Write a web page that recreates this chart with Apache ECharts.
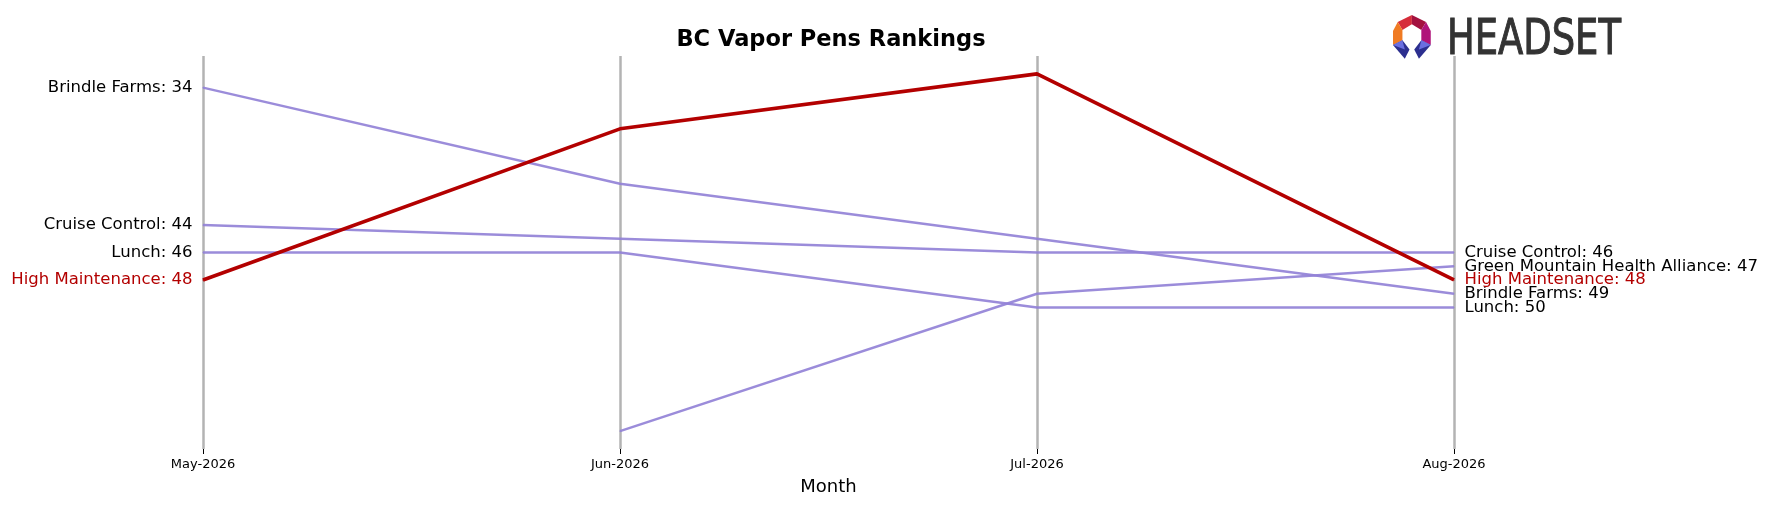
<!DOCTYPE html>
<html>
<head>
<meta charset="utf-8">
<script src="https://cdn.jsdelivr.net/npm/echarts@6/dist/echarts.min.js"></script>
<style>html,body{margin:0;padding:0;background:#fff}#c{width:1769px;height:506px}</style>
</head>
<body>
<div id="c"></div>
<script>
const months = ["May-2026", "Jun-2026", "Jul-2026", "Aug-2026"];
const brindleFarms = [34, 41, 45, 49];
const cruiseControl = [44, 45, 46, 46];
const lunch = [46, 46, 50, 50];
const greenMountain = [null, 59, 49, 47];
const highMaintenance = [48, 37, 33, 48];

const brands = [
  { name: "Brindle Farms", data: brindleFarms, hl: false },
  { name: "Cruise Control", data: cruiseControl, hl: false },
  { name: "Lunch", data: lunch, hl: false },
  { name: "Green Mountain Health Alliance", data: greenMountain, hl: false },
  { name: "High Maintenance", data: highMaintenance, hl: true }
];

const FONT = "DejaVu Sans";
const PURPLE = "rgba(147,130,215,0.92)";
const RED = "#b30000";

function buildSeries(b) {
  const color = b.hl ? RED : PURPLE;
  const txt = b.hl ? RED : "#000";
  const last = b.data.length - 1;
  const data = b.data.map((v, i) => {
    const item = { value: v };
    if (v !== null && (i === 0 || i === last)) {
      item.label = {
        show: true,
        position: i === 0 ? "left" : "right",
        distance: 10,
        formatter: b.name + ": " + v,
        color: txt,
        fontFamily: FONT,
        fontSize: 16.5
      };
    }
    return item;
  });
  return {
    name: b.name,
    type: "line",
    data: data,
    symbol: "circle",
    symbolSize: 1,
    showSymbol: true,
    showAllSymbol: true,
    clip: false,
    z: b.hl ? 5 : 3,
    itemStyle: { color: color },
    lineStyle: { color: color, width: b.hl ? 3.6 : 2.5 },
    label: { show: false },
    labelLayout: { hideOverlap: false },
    animation: false
  };
}

const chart = echarts.init(document.getElementById("c"), null, { renderer: "canvas" });
chart.setOption({
  backgroundColor: "#fff",
  animation: false,
  title: {
    text: "BC Vapor Pens Rankings",
    left: 826, textAlign: "center", top: 24,
    textStyle: { fontFamily: FONT, fontWeight: "bold", fontSize: 22.5, color: "#000" }
  },
  grid: { left: 203, right: 315, top: 56, bottom: 57 },
  xAxis: {
    type: "category",
    data: months,
    boundaryGap: false,
    axisLine: { show: false },
    axisTick: { show: true, length: 5, lineStyle: { color: "#000", width: 1 } },
    axisLabel: { color: "#000", fontFamily: FONT, fontSize: 13, margin: 9 },
    splitLine: { show: true, lineStyle: { color: "#b3b3b3", width: 2.5 } },
    name: "Month",
    nameLocation: "middle",
    nameGap: 29,
    nameTextStyle: { color: "#000", fontFamily: FONT, fontSize: 18 }
  },
  yAxis: {
    type: "value",
    inverse: true,
    min: 31.7,
    max: 60.3,
    show: false
  },
  series: brands.map(buildSeries),
  graphic: [
    {
      type: "group", left: 1393, top: 15, scaleX: 1.18, scaleY: 1.15,
      children: [
        { type: "polygon", shape: { points: [[10,6],[22,0],[22,8],[14,13]] }, style: { fill: "#d62d3a" } },
        { type: "polygon", shape: { points: [[22,0],[34,6],[30,13],[22,8]] }, style: { fill: "#a3123f" } },
        { type: "polygon", shape: { points: [[10,6],[14,13],[14,22],[6,26],[6,14]] }, style: { fill: "#f07b23" } },
        { type: "polygon", shape: { points: [[34,6],[38,14],[38,26],[30,22],[30,13]] }, style: { fill: "#b0147a" } },
        { type: "polygon", shape: { points: [[6,26],[14,22],[20,30],[16,38]] }, style: { fill: "#2c2f8f" } },
        { type: "polygon", shape: { points: [[6,26],[14,22],[16,30]] }, style: { fill: "#6a6fe0" } },
        { type: "polygon", shape: { points: [[38,26],[30,22],[24,30],[28,38]] }, style: { fill: "#2c2f8f" } },
        { type: "polygon", shape: { points: [[38,26],[30,22],[28,30]] }, style: { fill: "#6a6fe0" } }
      ]
    },
    {
      type: "text", x: 1447, y: 16, scaleX: 0.82, scaleY: 1,
      style: { text: "HEADSET", fill: "#333333", font: "50px 'DejaVu Sans Condensed', sans-serif", textVerticalAlign: "top", stroke: "#333333", lineWidth: 1 }
    }
  ]
});
</script>
</body>
</html>
